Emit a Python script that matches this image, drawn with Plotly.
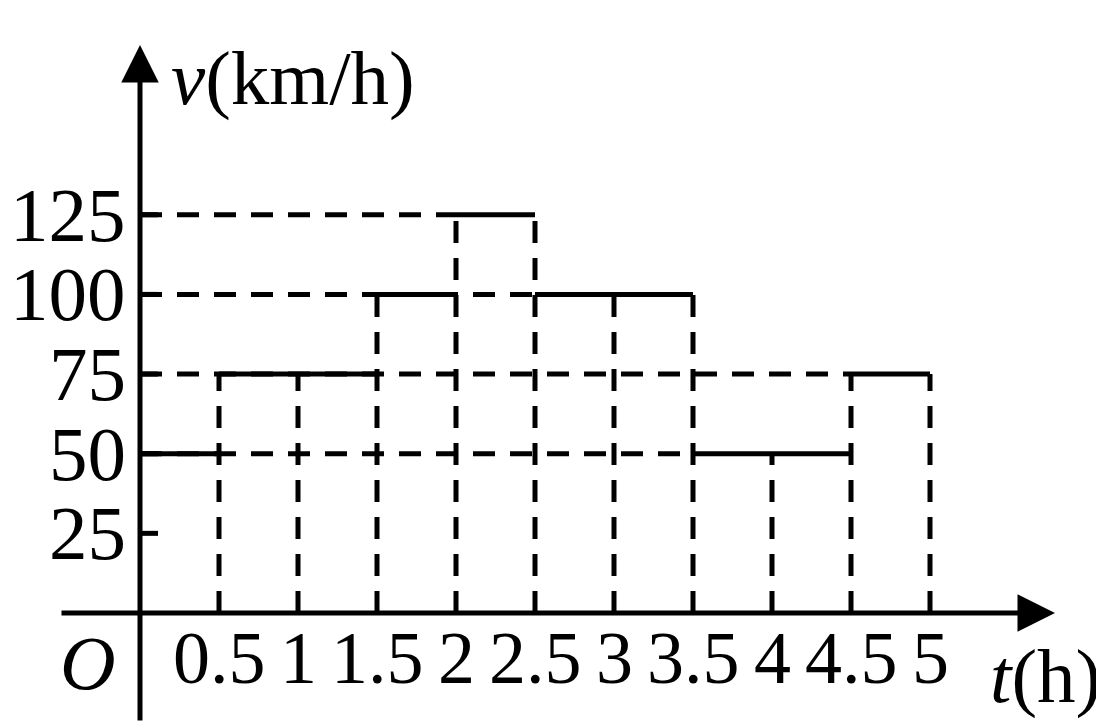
import plotly.graph_objects as go

# ---- data ----
seg_start = [0, 0.5, 1.5, 2, 2.5, 3.5, 4.5]
seg_end = [0.5, 1.5, 2, 2.5, 3.5, 4.5, 5]
speed = [50, 75, 100, 125, 100, 50, 75]

x_ticks = [0.5, 1, 1.5, 2, 2.5, 3, 3.5, 4, 4.5, 5]
x_tick_labels = ["0.5", "1", "1.5", "2", "2.5", "3", "3.5", "4", "4.5", "5"]
y_ticks = [25, 50, 75, 100, 125]
y_tick_labels = ["25", "50", "75", "100", "125"]

# ---- pixel geometry helpers (layout only) ----
W, H = 1104, 727
OFF = 8                      # page body margin
X0PX, XS = 140 - OFF, 158.0  # figure pixel of t=0, px per hour
Y0PX, YS = 613 - OFF, 3.186  # figure pixel of v=0, px per km/h
x_range = [-X0PX / XS, (W - X0PX) / XS]
y_range = [-(H - Y0PX) / YS, Y0PX / YS]


def px_x(p):
    return (p - OFF - X0PX) / XS


def px_y(p):
    return (Y0PX - (p - OFF)) / YS


FONT = "Liberation Serif, Times New Roman, serif"
FS = 74
FSY = 77
DASH = "22px,15px"
LW = 5

fig = go.Figure()

# solid step segments
sx, sy = [], []
for a, b, v in zip(seg_start, seg_end, speed):
    sx += [a, b, None]
    sy += [v, v, None]
fig.add_trace(go.Scatter(x=sx, y=sy, mode="lines",
                         line=dict(color="black", width=LW), hoverinfo="skip"))

# dashed verticals at each tick
dx, dy = [], []
for t in x_ticks:
    h = max(v for a, b, v in zip(seg_start, seg_end, speed) if a <= t <= b)
    dx += [t, t, None]
    dy += [0, h, None]
# dashed horizontals from the axis to the start of the last segment at that level
for lvl in sorted(set(speed)):
    last_start = max(a for a, v in zip(seg_start, speed) if v == lvl)
    dx += [0, last_start, None]
    dy += [lvl, lvl, None]
fig.add_trace(go.Scatter(x=dx, y=dy, mode="lines",
                         line=dict(color="black", width=LW, dash=DASH), hoverinfo="skip"))

# y tick marks
tx, ty = [], []
for v in y_ticks:
    tx += [0, 18 / XS, None]
    ty += [v, v, None]
fig.add_trace(go.Scatter(x=tx, y=ty, mode="lines",
                         line=dict(color="black", width=LW), hoverinfo="skip"))

ann = []
# axes with arrows
ann.append(dict(x=px_x(1055), y=0, ax=px_x(60), ay=0,
                xref="x", yref="y", axref="x", ayref="y", text="",
                showarrow=True, arrowhead=2, arrowsize=1.5, arrowwidth=LW,
                arrowcolor="black", standoff=0))
ann.append(dict(x=0, y=px_y(45), ax=0, ay=px_y(722),
                xref="x", yref="y", axref="x", ayref="y", text="",
                showarrow=True, arrowhead=2, arrowsize=1.5, arrowwidth=LW,
                arrowcolor="black", standoff=0))

for v, lab in zip(y_ticks, y_tick_labels):
    ann.append(dict(x=-12 / XS, y=v, xref="x", yref="y", text=lab, showarrow=False,
                    xanchor="right", yanchor="middle",
                    font=dict(family=FONT, size=FSY, color="black")))
for t, lab in zip(x_ticks, x_tick_labels):
    ann.append(dict(x=t, y=-45 / YS, xref="x", yref="y", text=lab, showarrow=False,
                    xanchor="center", yanchor="middle",
                    font=dict(family=FONT, size=FS, color="black")))

ann.append(dict(x=px_x(88), y=px_y(663), xref="x", yref="y", text="<i>O</i>",
                showarrow=False, xanchor="center", yanchor="middle",
                font=dict(family=FONT, size=FSY, color="black")))
ann.append(dict(x=px_x(293), y=px_y(78), xref="x", yref="y",
                text="<i>v</i>(km/h)", showarrow=False, xanchor="center", yanchor="middle",
                font=dict(family=FONT, size=FSY, color="black")))
ann.append(dict(x=px_x(1045), y=px_y(676), xref="x", yref="y",
                text="<i>t</i>(h)", showarrow=False, xanchor="center", yanchor="middle",
                font=dict(family=FONT, size=FSY, color="black")))

fig.update_layout(
    width=W, height=H, margin=dict(l=0, r=0, t=0, b=0),
    paper_bgcolor="white", plot_bgcolor="white", showlegend=False,
    xaxis=dict(range=x_range, visible=False, fixedrange=True),
    yaxis=dict(range=y_range, visible=False, fixedrange=True),
    annotations=ann,
)

fig.write_html("out.html")
